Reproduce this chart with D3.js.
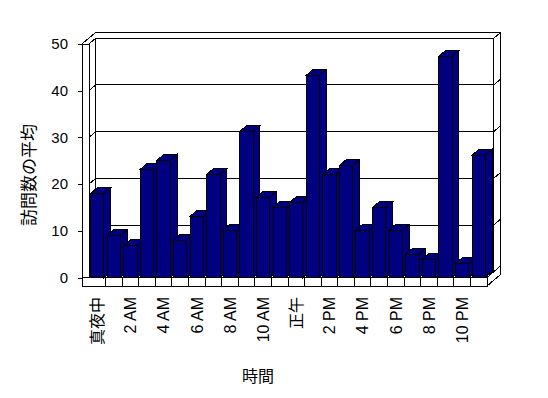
<!DOCTYPE html>
<html>
<head>
<meta charset="utf-8">
<script src="https://cdn.jsdelivr.net/npm/d3@7"></script>
<style>
  body { margin: 0; background: #fff; }
  text { font-family: "Liberation Sans", "Noto Sans CJK JP", sans-serif; fill: #000; }
  .face { fill: #fff; stroke: #000; stroke-width: 1; shape-rendering: crispEdges; }
  .bar { fill: #000080; stroke: #000; stroke-width: 1; shape-rendering: crispEdges; }
  .grid { stroke: #000; stroke-width: 1; fill: none; shape-rendering: crispEdges; }
</style>
</head>
<body>
<div id="main"></div>
<script>
const hours = [
  "真夜中", "1 AM", "2 AM", "3 AM", "4 AM", "5 AM",
  "6 AM", "7 AM", "8 AM", "9 AM", "10 AM", "11 AM",
  "正午", "1 PM", "2 PM", "3 PM", "4 PM", "5 PM",
  "6 PM", "7 PM", "8 PM", "9 PM", "10 PM", "11 PM"
];
const visits = [
  18.0, 9.0, 6.8, 23.2, 25.1, 8.0,
  13.1, 22.1, 10.1, 31.3, 17.2, 15.0,
  16.1, 43.3, 22.1, 24.0, 10.1, 15.0,
  10.1, 5.0, 3.9, 47.4, 3.0, 26.2
];
const hourTicks = hours.filter((d, i) => i % 2 === 0);
const yTicks = [0, 10, 20, 30, 40, 50];

function chart() {
  const w = 548;
  const h = 398;

  // front plane of the 3d box
  const left = 82, inner = 89, right = 487;
  const floorBottom = 286;
  // one unit of depth
  const dx = 6.8, dy = -5.8;

  const P = (x, y, z) => [x + z * dx, y + z * dy];
  const poly = pts => pts.map(p => p.join(",")).join(" ");

  const svg = d3.select("#main").append("svg")
                .attr("width", w)
                .attr("height", h);

  const x = d3.scaleBand()
              .domain(hours)
              .range([inner, right])
              .paddingInner(0.2)
              .paddingOuter(0.1);

  const y = d3.scaleLinear()
              .domain([0, 50])
              .range([277.5, 44]);

  const y0 = y(0), y50 = y(50);

  // back wall
  svg.append("polygon").attr("class", "face")
     .attr("points", poly([P(inner, y50, 1), P(right, y50, 1), P(right, y0, 1), P(inner, y0, 1)]));
  svg.append("polygon").attr("class", "face")
     .attr("points", poly([P(right, y50, 1), P(right, y50, 2), P(right, floorBottom, 2), P(right, y0, 1)]));

  // top of walls
  svg.append("polygon").attr("class", "face")
     .attr("points", poly([P(left, y50, 0), P(inner, y50, 0), P(inner, y50, 1), P(right, y50, 1),
                           P(right, y50, 2), P(left, y50, 2)]));

  // left wall
  svg.append("polygon").attr("class", "face")
     .attr("points", poly([P(left, y50, 0), P(inner, y50, 0), P(inner, y0, 0), P(left, y0, 0)]));
  svg.append("polygon").attr("class", "face")
     .attr("points", poly([P(inner, y50, 0), P(inner, y50, 1), P(inner, y0, 1), P(inner, y0, 0)]));

  // grid lines on the walls
  const grid = svg.append("g");
  yTicks.forEach(v => {
    const gy = y(v);
    grid.append("polyline").attr("class", "grid")
        .attr("points", poly([P(inner, gy, 0), P(inner, gy, 1), P(right, gy, 1), P(right, gy, 2)]));
  });

  // floor
  svg.append("polygon").attr("class", "face")
     .attr("points", poly([P(inner, y0, 0), P(right, y0, 0), P(right, y0, 1), P(inner, y0, 1)]));
  svg.append("polygon").attr("class", "face")
     .attr("points", poly([P(left, y0, 0), P(right, y0, 0), P(right, floorBottom, 0), P(left, floorBottom, 0)]));
  svg.append("polygon").attr("class", "face")
     .attr("points", poly([P(right, y0, 0), P(right, y0, 2), P(right, floorBottom, 2), P(right, floorBottom, 0)]));

  // category dividers on the floor front
  svg.append("g").selectAll("line")
     .data(hours.slice(1))
     .enter()
     .append("line")
     .attr("class", "grid")
     .attr("x1", d => x(d) - x.step() * x.paddingInner() / 2)
     .attr("x2", d => x(d) - x.step() * x.paddingInner() / 2)
     .attr("y1", y0)
     .attr("y2", floorBottom);

  // bars, left to right so the next front covers the side
  const bars = svg.append("g").selectAll("g")
                  .data(hours.map((d, i) => ({ hour: d, value: visits[i] })))
                  .enter()
                  .append("g");

  bars.append("polygon").attr("class", "bar")
      .attr("points", d => {
        const x0 = x(d.hour), x1 = x0 + x.bandwidth(), t = y(d.value);
        return poly([P(x0, t, 0), P(x1, t, 0), P(x1, t, 1), P(x0, t, 1)]);
      });
  bars.append("polygon").attr("class", "bar")
      .attr("points", d => {
        const x1 = x(d.hour) + x.bandwidth(), t = y(d.value);
        return poly([P(x1, t, 0), P(x1, t, 1), P(x1, y0, 1), P(x1, y0, 0)]);
      });
  bars.append("rect").attr("class", "bar")
      .attr("x", d => x(d.hour))
      .attr("y", d => y(d.value))
      .attr("width", x.bandwidth())
      .attr("height", d => y0 - y(d.value));

  // axes
  const yAxis = d3.axisLeft(y)
                  .tickValues(yTicks)
                  .tickSize(4)
                  .tickPadding(10);

  svg.append("g")
     .attr("transform", "translate(" + left + ",0)")
     .call(yAxis)
     .call(g => g.select(".domain").remove())
     .call(g => g.selectAll("line").attr("stroke", "#000").style("shape-rendering", "crispEdges"))
     .call(g => g.selectAll("text").style("font-size", "15px").attr("fill", "#000"));

  const xAxis = d3.axisBottom(x)
                  .tickValues(hourTicks)
                  .tickSize(0);

  svg.append("g")
     .attr("transform", "translate(0," + floorBottom + ")")
     .call(xAxis)
     .call(g => g.select(".domain").remove())
     .call(g => g.selectAll("text")
                 .attr("transform", "rotate(-90)")
                 .attr("x", -11)
                 .attr("y", 0)
                 .attr("dy", "0.36em")
                 .attr("text-anchor", "end")
                 .attr("fill", "#000")
                 .style("font-size", "16px"));

  svg.append("text")
     .attr("x", 258)
     .attr("y", 382)
     .attr("text-anchor", "middle")
     .style("font-size", "16px")
     .text("時間");

  svg.append("text")
     .attr("transform", "translate(35,175) rotate(-90)")
     .attr("text-anchor", "middle")
     .style("font-size", "17px")
     .text("訪問数の平均");
}

chart();
</script>
</body>
</html>
